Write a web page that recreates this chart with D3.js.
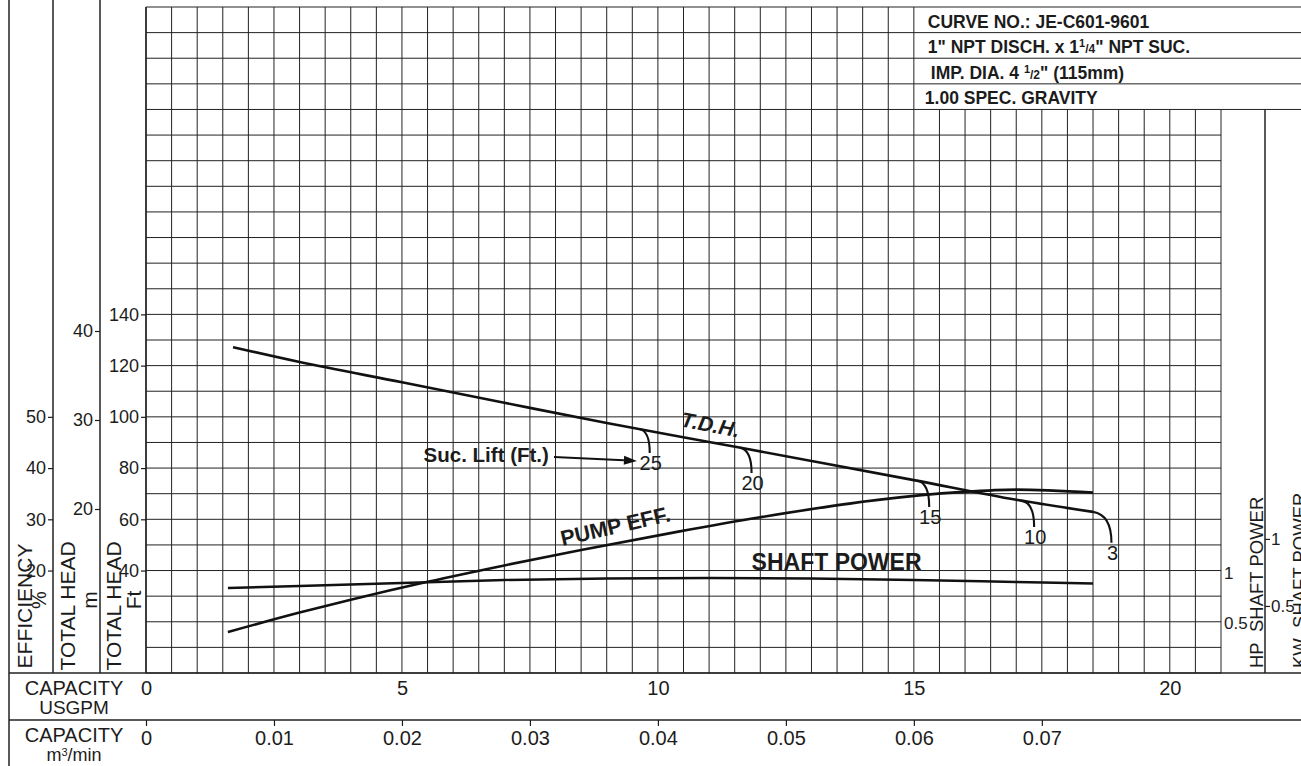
<!DOCTYPE html>
<html><head><meta charset="utf-8">
<script src="https://cdn.jsdelivr.net/npm/d3@7"></script>
<style>
html,body{margin:0;padding:0;background:#fff;}
svg{display:block;font-family:"Liberation Sans",Arial,Helvetica,sans-serif;}
</style></head><body>
<svg id="c" width="1301" height="766"></svg>
<script>
// ---------------- DATA ----------------
const tdhQ   = [1.7, 3, 5, 7, 9, 11, 13, 15, 17, 18.5];            // USGPM
const tdhFt  = [127.2, 121.4, 113.5, 105.5, 97.6, 90.2, 82.8, 75.3, 67.6, 62.9]; // ft
const effQ   = [1.6, 3, 4, 5.5, 7, 8.5, 10.4, 12, 14.3, 15.9, 17, 18.5];
const effPct = [8.0, 11.8, 14.3, 17.8, 21.0, 24.0, 27.6, 30.4, 33.8, 35.3, 35.8, 35.2];
const hpQ    = [1.6, 3, 5, 7, 9, 11, 13, 15, 17, 18.5];
const hpVal  = [0.85, 0.87, 0.9, 0.93, 0.945, 0.95, 0.945, 0.93, 0.91, 0.895];
const liftLabels  = ["25", "20", "15", "10", "3"];
const hookStartQ  = [9.64, 11.6, 15.07, 17.1, 18.5];
const hookEndQ    = [9.84, 11.83, 15.3, 17.35, 18.86];
const hookEndFt   = [85.9, 78.1, 64.8, 57.0, 50.8];
const gpmTicks = [0, 5, 10, 15, 20];
const m3Ticks  = [0, 0.01, 0.02, 0.03, 0.04, 0.05, 0.06, 0.07];
const ftTicks  = [40, 60, 80, 100, 120, 140];
const mTicks   = [20, 30, 40];
const effTicks = [20, 30, 40, 50];
const hpTicks  = [0.5, 1];
const kwTicks  = [0.5, 1];
const titleRows = ["CURVE NO.: JE-C601-9601", "1\" NPT DISCH. x 1", "IMP. DIA. 4 ", "1.00 SPEC. GRAVITY"];

// ---------------- LAYOUT ----------------
const W = 1301, H = 766;
const svg = d3.select("#c");
const INK = "#1c1c1c";
const x    = d3.scaleLinear().domain([0, 21]).range([146, 1221]);
const yFt  = d3.scaleLinear().domain([0, 260]).range([673, 7]);
const yM   = d3.scaleLinear().domain([20, 40]).range([509, 331]);
const yEff = d3.scaleLinear().domain([0, 130]).range([673, 7]);
const yHP  = d3.scaleLinear().domain([0, 6.66]).range([673, 7]);
const yKW  = d3.scaleLinear().domain([0, 6.66 / 1.341]).range([673, 7]);
const xM3  = d3.scaleLinear().domain([0, 0.084]).range([146, 1221]);
const tableQ = 15, tableFt = 220;
const rowBot = yFt(0), row2 = 720;

// grid
const grid = svg.append("g").attr("stroke", "#222").attr("stroke-width", 1);
d3.range(0, 21.001, 0.5).forEach(q => {
  grid.append("line").attr("x1", x(q)).attr("x2", x(q))
    .attr("y1", yFt(0)).attr("y2", q > tableQ ? yFt(tableFt) : yFt(260));
});
d3.range(0, 260.001, 10).forEach(f => {
  grid.append("line").attr("x1", x(0)).attr("x2", f >= tableFt ? W : x(21))
    .attr("y1", yFt(f)).attr("y2", yFt(f));
});

// frame lines
const fr = svg.append("g").attr("stroke", "#222").attr("stroke-width", 1.5);
fr.append("line").attr("x1", 9).attr("x2", 9).attr("y1", 0).attr("y2", H);
fr.append("line").attr("x1", 53).attr("x2", 53).attr("y1", 0).attr("y2", rowBot);
fr.append("line").attr("x1", 100).attr("x2", 100).attr("y1", 0).attr("y2", rowBot);
fr.append("line").attr("x1", x(0)).attr("x2", x(0)).attr("y1", yFt(260)).attr("y2", rowBot);
fr.append("line").attr("x1", 9).attr("x2", W).attr("y1", rowBot).attr("y2", rowBot);
fr.append("line").attr("x1", 9).attr("x2", W).attr("y1", row2).attr("y2", row2);
fr.append("line").attr("x1", x(21) + 44).attr("x2", x(21) + 44).attr("y1", yFt(tableFt)).attr("y2", rowBot);

// axes
function styleAxis(g, size) {
  g.select(".domain").remove();
  g.attr("font-family", null).attr("font-size", size);
  g.selectAll("text").attr("fill", INK);
  g.selectAll("line").attr("stroke", INK).attr("stroke-width", 1.2);
}
svg.append("g").attr("transform", `translate(${x(0)},0)`)
  .call(d3.axisLeft(yFt).tickValues(ftTicks).tickSize(5).tickPadding(2)).call(g => styleAxis(g, 18));
svg.append("g").attr("transform", `translate(100,0)`)
  .call(d3.axisLeft(yM).tickValues(mTicks).tickSize(5).tickPadding(2)).call(g => styleAxis(g, 18));
svg.append("g").attr("transform", `translate(53,0)`)
  .call(d3.axisLeft(yEff).tickValues(effTicks).tickSize(5).tickPadding(2)).call(g => styleAxis(g, 18));
svg.append("g").attr("transform", `translate(${x(21)},0)`)
  .call(d3.axisRight(yHP).tickValues(hpTicks).tickSize(0).tickPadding(3).tickFormat(d => d === 1 ? "1" : "0.5"))
  .call(g => styleAxis(g, 17));
svg.append("g").attr("transform", `translate(${x(21) + 44},0)`)
  .call(d3.axisRight(yKW).tickValues(kwTicks).tickSize(5).tickPadding(1).tickFormat(d => d === 1 ? "1" : "0.5"))
  .call(g => styleAxis(g, 17));
svg.append("g").attr("transform", `translate(0,${rowBot})`)
  .call(d3.axisBottom(x).tickValues(gpmTicks).tickSize(0).tickPadding(8)).call(g => styleAxis(g, 20));
svg.append("g").attr("transform", `translate(0,${row2})`)
  .call(d3.axisBottom(xM3).tickValues(m3Ticks).tickSize(6).tickPadding(5).tickFormat(d => d === 0 ? "0" : d.toFixed(2)))
  .call(g => styleAxis(g, 20));

// curves
const line = d3.line().curve(d3.curveMonotoneX);
svg.append("path").attr("d", line(tdhQ.map((q, i) => [x(q), yFt(tdhFt[i])])))
  .attr("fill", "none").attr("stroke", "#111").attr("stroke-width", 2.6);
svg.append("path").attr("d", line(effQ.map((q, i) => [x(q), yEff(effPct[i])])))
  .attr("fill", "none").attr("stroke", "#111").attr("stroke-width", 2.6);
svg.append("path").attr("d", line(hpQ.map((q, i) => [x(q), yHP(hpVal[i])])))
  .attr("fill", "none").attr("stroke", "#111").attr("stroke-width", 2.4);

// suction lift hooks
const tdhAt = d3.scaleLinear().domain(tdhQ).range(tdhFt);
liftLabels.forEach((lab, i) => {
  const x0 = x(hookStartQ[i]), y0 = yFt(tdhAt(hookStartQ[i]));
  const xe = x(hookEndQ[i]), yc = yFt(tdhAt(hookEndQ[i])), ye = yFt(hookEndFt[i]);
  const p = d3.path(); p.moveTo(x0, y0); p.quadraticCurveTo(xe, yc, xe, ye);
  svg.append("path").attr("d", p.toString()).attr("fill", "none").attr("stroke", "#111").attr("stroke-width", 2.1);
  svg.append("text").attr("x", xe + 1).attr("y", ye + 17).attr("text-anchor", "middle")
    .attr("font-size", 20).attr("fill", INK).text(lab);
});

// annotations
svg.append("text").attr("transform", `translate(${x(11.0)},${yFt(94.1)}) rotate(11)`)
  .attr("text-anchor", "middle").attr("font-size", 21).attr("font-weight", "bold").attr("font-style", "italic")
  .attr("fill", INK).text("T.D.H.");
svg.append("text").attr("transform", `translate(${x(9.2)},${yFt(54.5)}) rotate(-13)`)
  .attr("text-anchor", "middle").attr("font-size", 21.5).attr("font-weight", "bold")
  .attr("fill", INK).text("PUMP EFF.");
svg.append("text").attr("x", x(15.15)).attr("y", yHP(1.03)).attr("text-anchor", "end")
  .attr("font-size", 23).attr("font-weight", "bold").attr("fill", INK).text("SHAFT POWER");
svg.append("text").attr("x", x(7.87)).attr("y", yFt(82.4)).attr("text-anchor", "end")
  .attr("font-size", 20.5).attr("font-weight", "bold").attr("fill", INK).text("Suc. Lift (Ft.)");
{
  const ax0 = x(7.97), ay0 = yFt(84.3), ax1 = x(9.59), ay1 = yFt(82.8);
  const ang = Math.atan2(ay1 - ay0, ax1 - ax0), L = 13, hw = 4.5;
  const bx = ax1 - L * Math.cos(ang), by = ay1 - L * Math.sin(ang);
  svg.append("line").attr("x1", ax0).attr("y1", ay0).attr("x2", bx).attr("y2", by)
    .attr("stroke", "#111").attr("stroke-width", 2);
  svg.append("path").attr("d", `M${ax1},${ay1}L${bx - hw * Math.sin(ang)},${by + hw * Math.cos(ang)}L${bx + hw * Math.sin(ang)},${by - hw * Math.cos(ang)}Z`)
    .attr("fill", "#111");
}

// axis titles (rotated)
function vtext(xb, yc, txt, size, anchor) {
  svg.append("text").attr("transform", `translate(${xb},${yc}) rotate(-90)`)
    .attr("text-anchor", anchor || "middle").attr("font-size", size).attr("fill", INK).text(txt);
}
vtext(32, 606, "EFFICIENCY", 21); vtext(46, 600, "%", 20);
vtext(75, 606, "TOTAL HEAD", 21); vtext(97, 600, "m", 21);
vtext(121, 606, "TOTAL HEAD", 21); vtext(141, 600, "Ft", 21);
vtext(1263, 668, "HP\u00a0\u00a0SHAFT POWER", 18.5, "start");
vtext(1306, 668, "KW\u00a0\u00a0SHAFT POWER", 18.5, "start");

// capacity titles
function ctext(yb, txt, size) {
  svg.append("text").attr("x", 74).attr("y", yb).attr("text-anchor", "middle")
    .attr("font-size", size).attr("fill", INK).text(txt);
}
ctext(695, "CAPACITY", 20); ctext(714, "USGPM", 19);
ctext(742, "CAPACITY", 20);
{
  const t = svg.append("text").attr("x", 74).attr("y", 761).attr("text-anchor", "middle").attr("font-size", 18).attr("fill", INK);
  t.append("tspan").text("m");
  t.append("tspan").attr("font-size", 11).attr("dy", -5).text("3");
  t.append("tspan").attr("dy", 5).text("/min");
}

// title block
const tb = svg.append("g").attr("font-size", 17.5).attr("font-weight", "bold").attr("fill", INK);
const tx = x(tableQ) + 14;
tb.append("text").attr("x", tx).attr("y", yFt(250) - 5).text(titleRows[0]);
{
  const t = tb.append("text").attr("x", tx).attr("y", yFt(240) - 5);
  t.append("tspan").text(titleRows[1]);
  t.append("tspan").attr("font-size", 11).attr("dy", -6).text("1");
  t.append("tspan").attr("font-size", 12).attr("dy", 6).text("/4");
  t.append("tspan").text("\" NPT SUC.");
}
{
  const t = tb.append("text").attr("x", tx + 3).attr("y", yFt(230) - 5);
  t.append("tspan").text(titleRows[2]);
  t.append("tspan").attr("font-size", 11).attr("dy", -6).text("1");
  t.append("tspan").attr("font-size", 12).attr("dy", 6).text("/2");
  t.append("tspan").text("\" (115mm)");
}
tb.append("text").attr("x", tx - 3).attr("y", yFt(220) - 5).text(titleRows[3]);
</script></body></html>
